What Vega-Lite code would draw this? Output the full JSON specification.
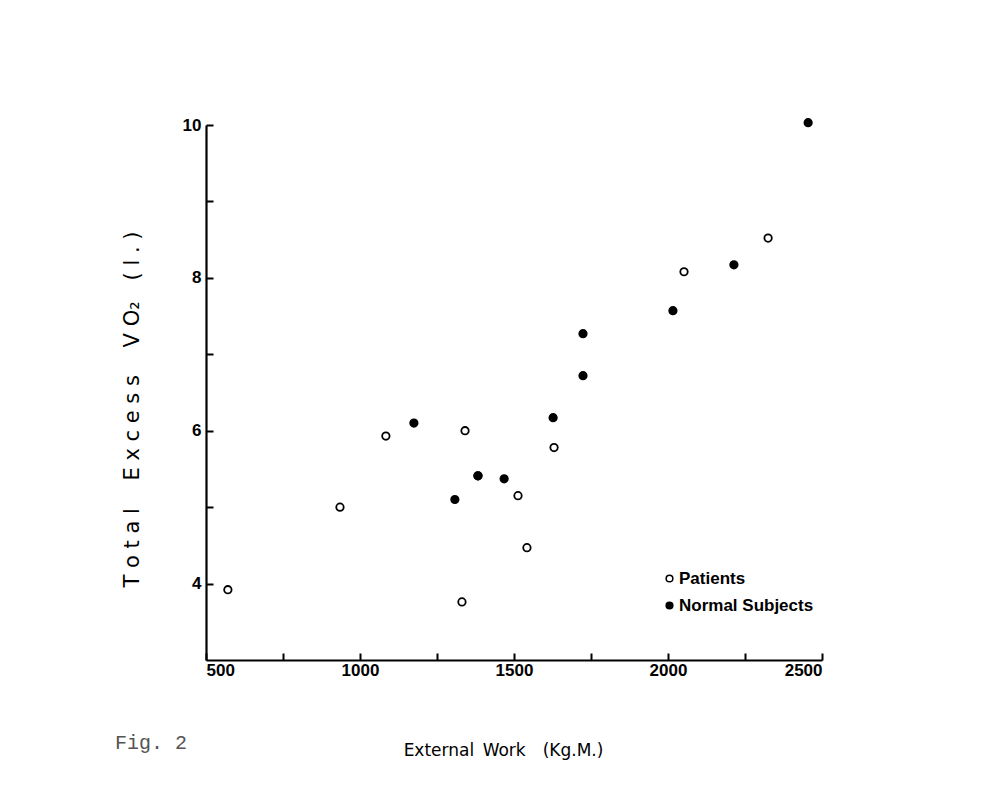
{
  "$schema": "https://vega.github.io/schema/vega-lite/v6.json",
  "autosize": "none",
  "width": 616,
  "height": 535,
  "padding": {"left": 206, "top": 125, "right": 170, "bottom": 143},
  "background": "white",
  "config": {
    "view": {"stroke": null},
    "axis": {
      "domainColor": "black", "domainWidth": 2.2,
      "tickColor": "black", "tickWidth": 2, "tickSize": -7,
      "grid": false,
      "labelColor": "black", "labelFont": "Liberation Sans", "labelFontWeight": "bold", "labelFontSize": 17,
      "titleColor": "black", "titleFont": "DejaVu Sans", "titleFontWeight": "normal", "titleFontSize": 18
    },
    "legend": {
      "labelFont": "Liberation Sans", "labelFontWeight": "bold", "labelFontSize": 17, "labelColor": "black"
    }
  },
  "title": {
    "text": "Fig. 2",
    "orient": "bottom",
    "anchor": "start",
    "frame": "group",
    "dx": -91,
    "offset": -25,
    "font": "Liberation Mono",
    "fontSize": 20,
    "fontWeight": "normal",
    "color": "#555555"
  },
  "data": {
    "values": [
      {"work": 571, "vo2": 3.92, "group": "Patients"},
      {"work": 935, "vo2": 5.0, "group": "Patients"},
      {"work": 1084, "vo2": 5.93, "group": "Patients"},
      {"work": 1341, "vo2": 6.0, "group": "Patients"},
      {"work": 1383, "vo2": 5.41, "group": "Patients"},
      {"work": 1513, "vo2": 5.15, "group": "Patients"},
      {"work": 1542, "vo2": 4.47, "group": "Patients"},
      {"work": 1331, "vo2": 3.76, "group": "Patients"},
      {"work": 1630, "vo2": 5.78, "group": "Patients"},
      {"work": 2052, "vo2": 8.08, "group": "Patients"},
      {"work": 2325, "vo2": 8.52, "group": "Patients"},
      {"work": 1175, "vo2": 6.1, "group": "Normal Subjects"},
      {"work": 1308, "vo2": 5.1, "group": "Normal Subjects"},
      {"work": 1383, "vo2": 5.41, "group": "Normal Subjects"},
      {"work": 1468, "vo2": 5.37, "group": "Normal Subjects"},
      {"work": 1627, "vo2": 6.17, "group": "Normal Subjects"},
      {"work": 1724, "vo2": 6.72, "group": "Normal Subjects"},
      {"work": 1724, "vo2": 7.27, "group": "Normal Subjects"},
      {"work": 2016, "vo2": 7.57, "group": "Normal Subjects"},
      {"work": 2214, "vo2": 8.17, "group": "Normal Subjects"},
      {"work": 2455, "vo2": 10.03, "group": "Normal Subjects"}
    ]
  },
  "mark": {"type": "point", "shape": "circle", "filled": true, "stroke": "black", "strokeWidth": 1.8, "size": 55, "opacity": 1, "clip": false},
  "encoding": {
    "x": {
      "field": "work", "type": "quantitative",
      "scale": {"domain": [500, 2500], "nice": false, "zero": false},
      "axis": {
        "title": "External\u2002Work\u2003(Kg.M.)",
        "values": [500, 750, 1000, 1250, 1500, 1750, 2000, 2250, 2500],
        "labelExpr": "datum.value % 500 === 0 ? datum.label : ''",
        "format": "d",
        "labelPadding": 9,
        "titlePadding": 64,
        "titleX": 297,
        "titleFontSize": 17
      }
    },
    "y": {
      "field": "vo2", "type": "quantitative",
      "scale": {"domain": [3, 10], "nice": false, "zero": false},
      "axis": {
        "title": "T o t a l\u2003 E x c e s s\u2003 V O₂\u2003( l . )",
        "values": [4, 5, 6, 7, 8, 9, 10],
        "labelExpr": "datum.value % 2 === 0 ? datum.label : ''",
        "labelPadding": 12,
        "titlePadding": 40,
        "titleY": 284,
        "titleFontSize": 21
      }
    },
    "fill": {
      "field": "group", "type": "nominal",
      "scale": {"domain": ["Patients", "Normal Subjects"], "range": ["white", "black"]},
      "legend": {
        "title": null,
        "orient": "none",
        "legendX": 455,
        "legendY": 445,
        "symbolType": "circle",
        "symbolSize": 45,
        "symbolStrokeColor": "black",
        "symbolStrokeWidth": 1.5,
        "rowPadding": 9,
        "labelOffset": 1
      }
    },
    "order": {"field": "group", "type": "nominal", "sort": "descending"}
  }
}
